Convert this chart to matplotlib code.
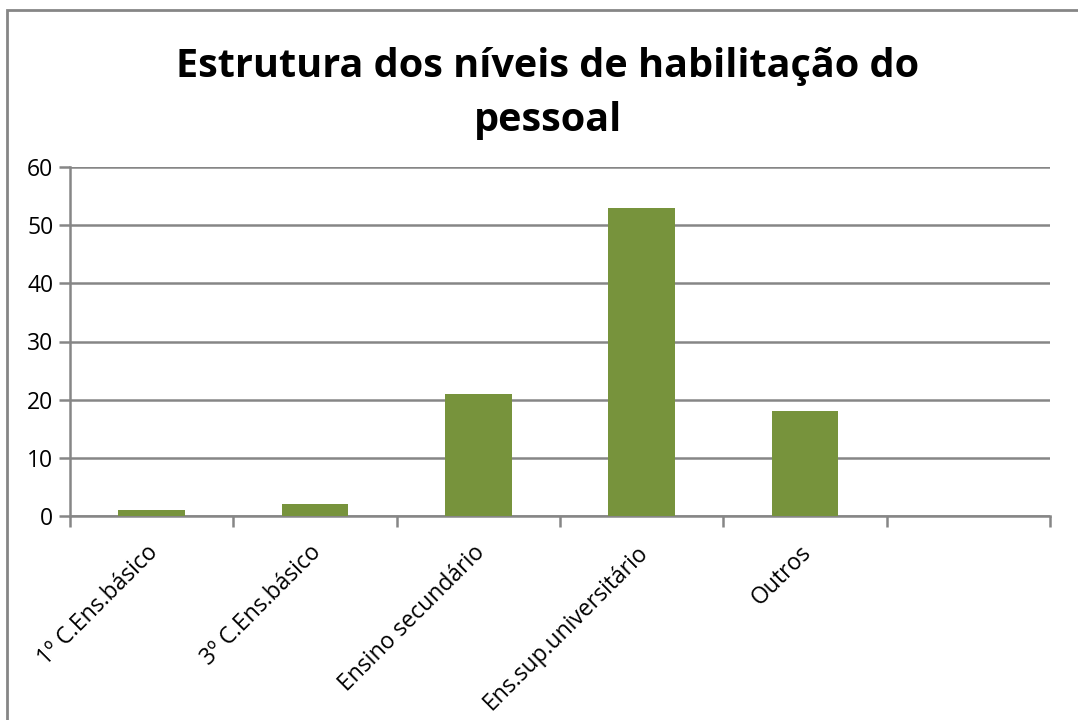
import matplotlib.pyplot as plt
from matplotlib.patches import Rectangle

categorias = ["1º C.Ens.básico", "3º C.Ens.básico", "Ensino secundário",
              "Ens.sup.universitário", "Outros", ""]
valores = [1, 2, 21, 53, 18, 0]

plt.rcParams['font.family'] = ['Open Sans', 'DejaVu Sans']

fig = plt.figure(figsize=(10.78, 7.2), dpi=100)
ax = fig.add_axes([70 / 1078, 1 - 516 / 720, (1050 - 70) / 1078, (516 - 167) / 720])

cinza = '#868686'
x = list(range(len(categorias)))
ax.bar(x[:5], valores[:5], width=0.41, color='#77933C', zorder=3)

ax.set_xlim(-0.5, 5.5)
ax.set_ylim(0, 60)
ax.set_yticks(range(0, 61, 10))
ax.grid(axis='y', color=cinza, linewidth=1.8, zorder=0)
ax.tick_params(axis='y', length=8, width=1.8, color=cinza, labelsize=16.5, pad=4)

# ticks on the category boundaries, labels at the centres
ax.set_xticks([i - 0.5 for i in range(7)])
ax.set_xticklabels([])
ax.tick_params(axis='x', length=8, width=1.8, color=cinza)
for i, nome in enumerate(categorias):
    ax.annotate(nome, xy=(i, 0), xycoords=('data', 'axes fraction'),
                xytext=(2, -24), textcoords='offset points',
                rotation=45, ha='right', va='center', rotation_mode='anchor',
                fontsize=16.5)

for lado in ['top', 'right']:
    ax.spines[lado].set_visible(False)
ax.spines['left'].set_color(cinza)
ax.spines['left'].set_linewidth(1.8)
ax.spines['bottom'].set_color(cinza)
ax.spines['bottom'].set_linewidth(1.8)

fig.text(548 / 1078, 1 - 94 / 720, "Estrutura dos níveis de habilitação do\npessoal",
         ha='center', va='center', fontsize=28.5, fontweight='bold', linespacing=1.5)

# chart frame (cut by the image at right and bottom)
fig.patches.append(Rectangle((7 / 1078, -0.1), 1.2, 1.1 - 10 / 720,
                             transform=fig.transFigure, fill=False,
                             edgecolor=cinza, linewidth=2))

fig.savefig('out.png', dpi=100)
